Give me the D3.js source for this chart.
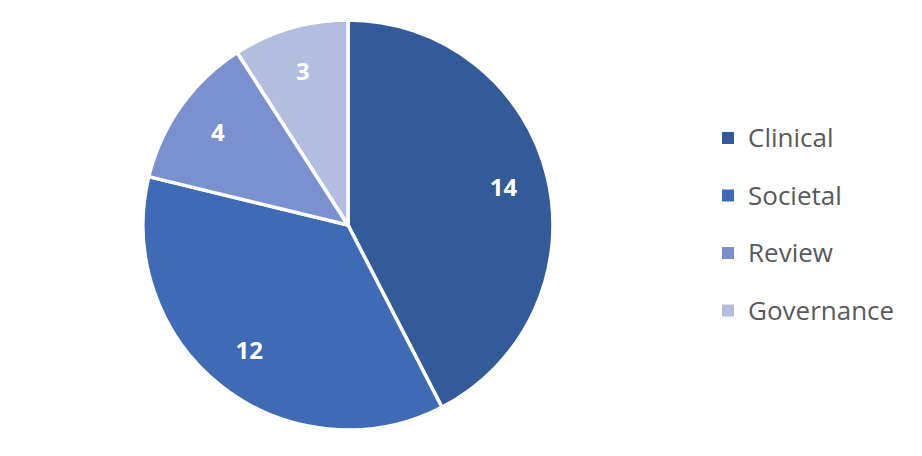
<!DOCTYPE html>
<html><head><meta charset="utf-8">
<script src="https://cdn.jsdelivr.net/npm/d3@7"></script>
<style>body{margin:0;background:#fff}</style>
</head><body>
<svg id="chart" width="922" height="456"></svg>
<script>
const categories = ["Clinical", "Societal", "Review", "Governance"];
const values = [14, 12, 4, 3];
const colors = ["#335a99", "#3f6ab6", "#7b91cf", "#b3bde0"];

const svg = d3.select("#chart");
const cx = 348, cy = 225, radius = 205;
const pie = d3.pie().sort(null).value(d => d)(values);
const arc = d3.arc().innerRadius(0).outerRadius(radius);
const labelArc = d3.arc().innerRadius(radius * 0.78).outerRadius(radius * 0.78);

const g = svg.append("g").attr("transform", `translate(${cx},${cy})`);
g.selectAll("path").data(pie).join("path")
  .attr("d", arc)
  .attr("fill", (d, i) => colors[i])
  .attr("stroke", "#fff")
  .attr("stroke-width", 3.5)
  .attr("stroke-linejoin", "round");

g.selectAll("text").data(pie).join("text")
  .attr("transform", d => `translate(${labelArc.centroid(d)})`)
  .attr("text-anchor", "middle")
  .attr("dy", "0.35em")
  .attr("fill", "#fff")
  .attr("font-family", "Open Sans, Liberation Sans, sans-serif")
  .attr("font-weight", "bold")
  .attr("font-size", 24)
  .text(d => d.data);

const legend = svg.append("g").attr("transform", "translate(722,138)");
const rows = legend.selectAll("g").data(categories).join("g")
  .attr("transform", (d, i) => `translate(0,${i * 57.5})`);
rows.append("rect").attr("x", 0).attr("y", -6).attr("width", 12).attr("height", 12)
  .attr("fill", (d, i) => colors[i]);
rows.append("text").attr("x", 26).attr("dy", "0.35em")
  .attr("fill", "#595959")
  .attr("font-family", "Open Sans, Liberation Sans, sans-serif")
  .attr("font-size", 26)
  .text(d => d);
</script>
</body></html>
